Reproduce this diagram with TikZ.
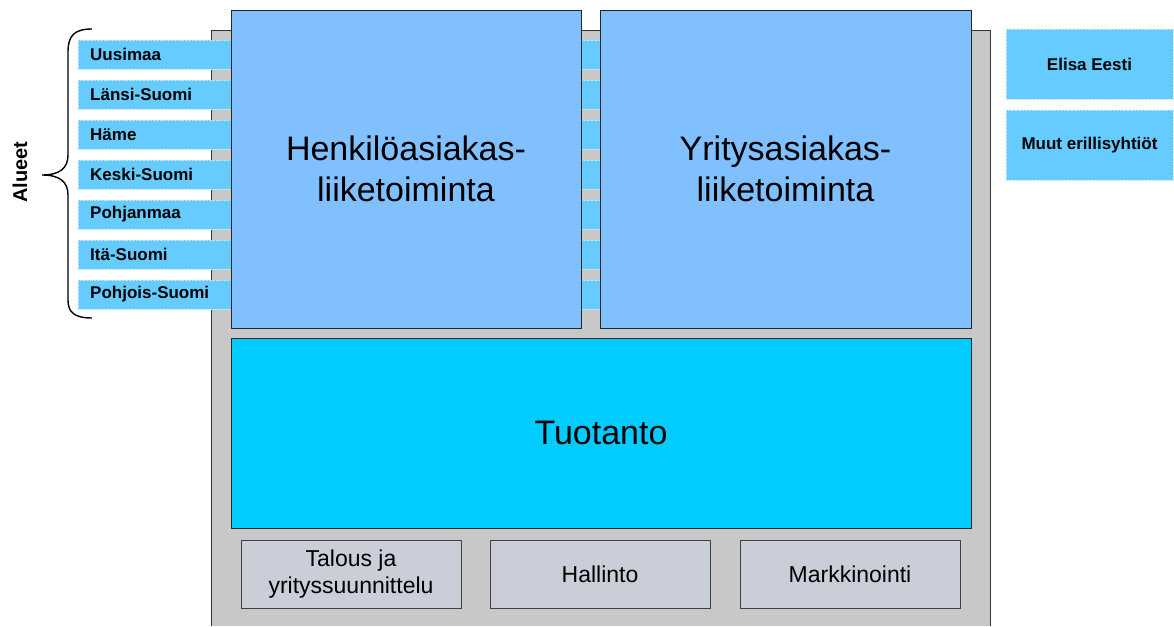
\documentclass[tikz,border=0pt]{standalone}
\usepackage{fontspec}
\setmainfont{Liberation Sans}
\definecolor{yksikko}{HTML}{80C0FF}
\definecolor{tuotanto}{HTML}{00CCFF}
\definecolor{alue}{HTML}{66CCFF}
\definecolor{pohja}{HTML}{C8C8C8}
\definecolor{tuki}{HTML}{C9CED8}
\tikzset{
	yksikko/.style={draw=black!85, fill=yksikko, inner sep=0pt, align=center,
		font=\fontsize{34}{41}\selectfont},
	aluerivi/.style={fill=alue, draw=white!55!alue, densely dotted, anchor=west,
		minimum height=29pt, text width=498pt, inner xsep=12pt, inner ysep=0pt,
		align=left, font=\fontsize{17}{19}\selectfont\bfseries},
	tukiyks/.style={draw=black!75, fill=tuki, inner sep=0pt, align=center,
		minimum width=220pt, minimum height=68pt, font=\fontsize{23}{27}\selectfont},
	erillis/.style={fill=alue, draw=white!55!alue, densely dotted, inner sep=0pt,
		minimum width=167pt, minimum height=70pt, align=center,
		font=\fontsize{17}{19}\selectfont\bfseries}
}

\begin{document}
\begin{tikzpicture}[x=1pt, y=-1pt]
\useasboundingbox (0,0) rectangle (1174,626);
% konsernin pohja
\fill[pohja] (211,30) rectangle (990,626);
\draw[black!80] (211,626) -- (211,30) -- (990,30) -- (990,626);
% alueet
\node[aluerivi] (uusimaa) at (78,54.5) {Uusimaa};
\node[aluerivi] (lansi) at (78,94.5) {Länsi-Suomi};
\node[aluerivi] (hame) at (78,134.5) {Häme};
\node[aluerivi] (keski) at (78,174.5) {Keski-Suomi};
\node[aluerivi] (pohjanmaa) at (78,214.5) {Pohjanmaa};
\node[aluerivi] (ita) at (78,254.5) {Itä-Suomi};
\node[aluerivi] (pohjois) at (78,294.5) {Pohjois-Suomi};
% liiketoiminnat
\node[yksikko, minimum width=350pt, minimum height=318pt] (henkilo) at (406,169)
	{Henkilöasiakas-\\liiketoiminta};
\node[yksikko, minimum width=371pt, minimum height=318pt] (yritys) at (785.5,169)
	{Yritysasiakas-\\liiketoiminta};
\node[yksikko, fill=tuotanto, minimum width=740pt, minimum height=190pt] (tuotanto) at (601,433)
	{Tuotanto};
% tukitoiminnot
\node[tukiyks] (talous) at (351,574) {Talous ja\\yrityssuunnittelu};
\node[tukiyks] (hallinto) at (600,574) {Hallinto};
\node[tukiyks] (markkinointi) at (850,574) {Markkinointi};
% erillisyhtiot
\node[erillis] (eesti) at (1089.5,64) {Elisa Eesti};
\node[erillis] (muut) at (1089.5,145) {Muut erillisyhtiöt};
% aaltosulje
\draw[line width=1.4pt] (92,29) .. controls (74,29) and (68,36) .. (68,52) -- (68,155)
	.. controls (68,168) and (60,175) .. (42,175)
	.. controls (60,175) and (68,182) .. (68,195) -- (68,300)
	.. controls (68,312) and (74,318) .. (92,318);
\node[rotate=90, font=\fontsize{20}{24}\selectfont\bfseries] (alueet) at (20,172) {Alueet};
\end{tikzpicture}
\end{document}
